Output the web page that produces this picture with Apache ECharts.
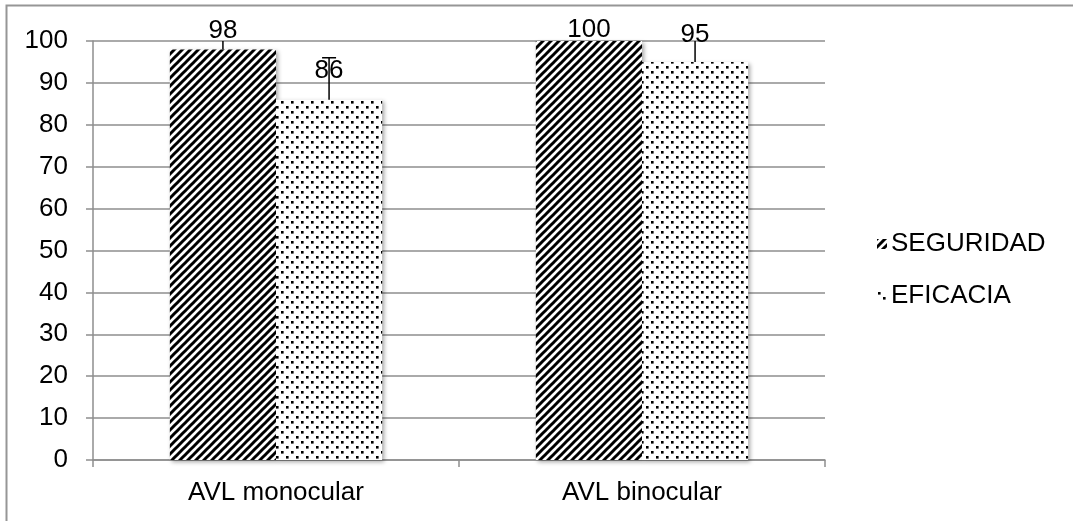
<!DOCTYPE html>
<html>
<head>
<meta charset="utf-8">
<script src="https://cdn.jsdelivr.net/npm/echarts@6/dist/echarts.min.js"></script>
<style>
  html, body { margin: 0; padding: 0; background: #fff; }
  #chart { width: 1073px; height: 521px; }
</style>
</head>
<body>
<div id="chart"></div>
<script>
// Categories and values
const categories = ['AVL monocular', 'AVL binocular'];
const seguridad = [98, 100];
const eficacia = [86, 95];
// Upper error amounts
const seguridadErr = [3, 3];
const eficaciaErr = [10, 10];
const yTicks = [0, 10, 20, 30, 40, 50, 60, 70, 80, 90, 100];

// Label lift above each bar (px)
const segLabelLift = [6, -2];
const efiLabelLift = [16, 14];

const FONT = '"Liberation Sans", Arial, sans-serif';
const FS = 26;

// Diagonal hatch tile
function hatchPattern() {
  const c = document.createElement('canvas');
  c.width = 8; c.height = 8;
  const g = c.getContext('2d');
  g.fillStyle = '#fff';
  g.fillRect(0, 0, 8, 8);
  g.strokeStyle = '#000';
  g.lineWidth = 3;
  g.lineCap = 'square';
  for (const k of [-8, 0, 8]) {
    g.beginPath();
    g.moveTo(k - 2, 8 + 2);
    g.lineTo(k + 8 + 2, -2);
    g.stroke();
  }
  return c;
}

// Dotted tile
function dotPattern() {
  const c = document.createElement('canvas');
  c.width = 10; c.height = 10;
  const g = c.getContext('2d');
  g.fillStyle = '#fff';
  g.fillRect(0, 0, 10, 10);
  g.fillStyle = '#000';
  g.fillRect(1, 1, 2.6, 2.6);
  g.fillRect(6, 6, 2.6, 2.6);
  return c;
}

const hatch = { image: hatchPattern(), repeat: 'repeat' };
const dots = { image: dotPattern(), repeat: 'repeat' };

const chart = echarts.init(document.getElementById('chart'), null, { renderer: 'canvas' });

const barShadow = {
  shadowColor: 'rgba(0,0,0,0.35)',
  shadowBlur: 4,
  shadowOffsetX: 2,
  shadowOffsetY: 2
};

function barData(values, lifts) {
  return values.map((v, i) => ({
    value: v,
    label: { distance: lifts[i] }
  }));
}

function errData(values, errs) {
  return values.map((v, i) => [i, v, v + errs[i]]);
}

// Error whisker centred on one of the two bars in a category
function errorRenderer(offsetFrac) {
  return function (params, api) {
    const ci = api.value(0);
    const base = api.coord([ci, api.value(1)]);
    const top = api.coord([ci, api.value(2)]);
    const band = api.size([1, 0])[0];
    const x = base[0] + offsetFrac * band;
    const st = { stroke: '#000', lineWidth: 1.5 };
    return {
      type: 'group',
      children: [
        { type: 'line', shape: { x1: x, y1: base[1], x2: x, y2: top[1] }, style: st },
        { type: 'line', shape: { x1: x - 7, y1: top[1], x2: x + 7, y2: top[1] }, style: st }
      ]
    };
  };
}

const labelStyle = {
  show: true,
  position: 'top',
  color: '#000',
  fontSize: FS,
  fontFamily: FONT
};

chart.setOption({
  backgroundColor: '#fff',
  animation: false,
  textStyle: { fontFamily: FONT },
  graphic: [{
    type: 'rect',
    shape: { x: 6.5, y: 5.5, width: 1200, height: 700 },
    style: { fill: 'none', stroke: '#969696', lineWidth: 2 },
    silent: true,
    z: 0
  }],
  grid: { left: 93, right: 248, top: 41, bottom: 61, containLabel: false },
  legend: {
    orient: 'vertical',
    left: 872,
    top: 226,
    itemWidth: 10,
    itemHeight: 10,
    itemGap: 26,
    icon: 'rect',
    textStyle: { fontSize: FS, color: '#000', fontFamily: FONT, padding: [0, 0, 0, -1] },
    data: ['SEGURIDAD', 'EFICACIA']
  },
  xAxis: {
    type: 'category',
    data: categories,
    axisLine: { lineStyle: { color: '#8e8e8e', width: 1.5 } },
    axisTick: { show: true, length: 7, lineStyle: { color: '#8e8e8e', width: 1.5 } },
    axisLabel: { color: '#000', fontSize: FS, fontFamily: FONT, margin: 20 }
  },
  yAxis: {
    type: 'value',
    min: yTicks[0],
    max: yTicks[yTicks.length - 1],
    interval: yTicks[1] - yTicks[0],
    axisLine: { show: true, lineStyle: { color: '#8e8e8e', width: 1.5 } },
    axisTick: { show: true, length: 7, lineStyle: { color: '#8e8e8e', width: 1.5 } },
    axisLabel: { color: '#000', fontSize: FS, fontFamily: FONT, margin: 25 },
    splitLine: { show: true, lineStyle: { color: '#8e8e8e', width: 1.5 } }
  },
  series: [
    {
      name: 'SEGURIDAD',
      type: 'bar',
      data: barData(seguridad, segLabelLift),
      barGap: '0%',
      barCategoryGap: '42%',
      itemStyle: Object.assign({ color: hatch }, barShadow),
      label: labelStyle,
      z: 3
    },
    {
      name: 'EFICACIA',
      type: 'bar',
      data: barData(eficacia, efiLabelLift),
      barGap: '0%',
      barCategoryGap: '42%',
      itemStyle: Object.assign({ color: dots }, barShadow),
      label: labelStyle,
      z: 3
    },
    {
      type: 'custom',
      name: 'err-seg',
      clip: true,
      renderItem: errorRenderer(-0.145),
      encode: { x: 0, y: [1, 2] },
      data: errData(seguridad, seguridadErr),
      z: 4,
      silent: true
    },
    {
      type: 'custom',
      name: 'err-efi',
      clip: true,
      renderItem: errorRenderer(0.145),
      encode: { x: 0, y: [1, 2] },
      data: errData(eficacia, eficaciaErr),
      z: 4,
      silent: true
    }
  ]
});
</script>
</body>
</html>
